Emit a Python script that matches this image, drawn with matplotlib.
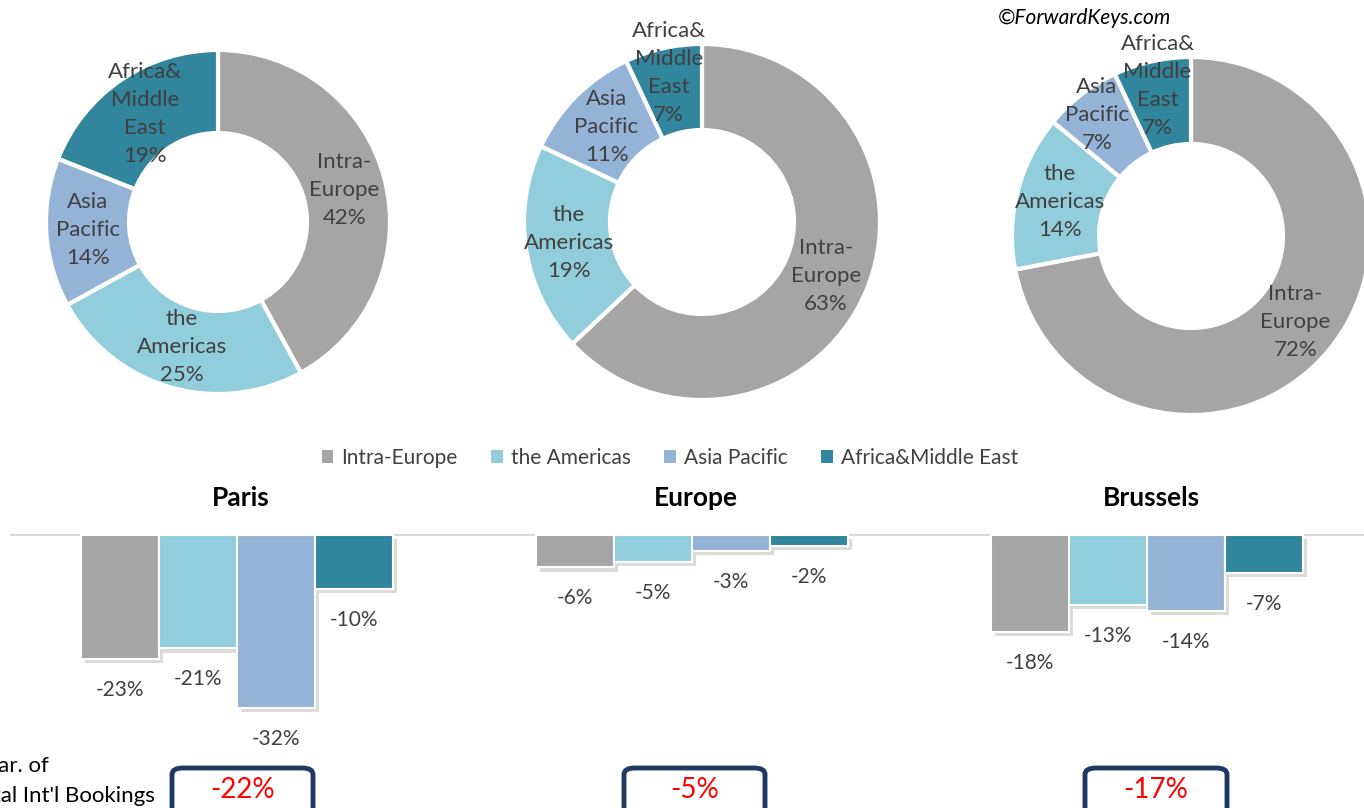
import matplotlib
matplotlib.use("Agg")
import matplotlib.pyplot as plt
import numpy as np
from matplotlib.patches import Patch, FancyBboxPatch
import matplotlib.patheffects as pe

plt.rcParams['font.family'] = ['Lato', 'DejaVu Sans']

# ---------------- data ----------------
regions = ["Intra-Europe", "the Americas", "Asia Pacific", "Africa&Middle East"]
region_labels = ["Intra-\nEurope", "the\nAmericas", "Asia\nPacific", "Africa&\nMiddle\nEast"]
colors = ["#A5A5A5", "#92CDDC", "#95B3D7", "#31859C"]

markets = ["Paris", "Europe", "Brussels"]
share_paris = [42, 25, 14, 19]
share_europe = [63, 19, 11, 7]
share_brussels = [72, 14, 7, 7]
shares = [share_paris, share_europe, share_brussels]

var_paris = [-23, -21, -32, -10]
var_europe = [-6, -5, -3, -2]
var_brussels = [-18, -13, -14, -7]
variations = [var_paris, var_europe, var_brussels]

total_var = ["-22%", "-5%", "-17%"]

# ---------------- figure ----------------
W, H = 1364, 808
fig = plt.figure(figsize=(W / 100, H / 100), dpi=100)
fig.patch.set_facecolor("white")

TXT = "#404040"

def px_axes(x0, y0, w, h):
    return fig.add_axes([x0 / W, 1 - (y0 + h) / H, w / W, h / H])

# donuts: center (px), outer radius, inner radius
donut_geom = [((218, 222), 172, 89), ((702, 222), 178, 92), ((1191, 236), 179, 92)]
for vals, ((cx, cy), R, rin) in zip(shares, donut_geom):
    ax = px_axes(cx - R, cy - R, 2 * R, 2 * R)
    width = 1 - rin / R
    wedges, _ = ax.pie(vals, colors=colors, startangle=90, counterclock=False,
                       radius=1, wedgeprops=dict(width=width, edgecolor="white", linewidth=3))
    ax.set_xlim(-1, 1)
    ax.set_ylim(-1, 1)
    ax.set_aspect("equal")
    ax.axis("off")
    for w in wedges:
        w.set_clip_on(False)
    total = sum(vals)
    cum = 0
    rmid = (1 + rin / R) / 2
    for v, lab in zip(vals, region_labels):
        mid = 90 - (cum + v / 2) / total * 360
        cum += v
        # small slices: Excel pushes the label slightly outward
        r = rmid + (0.1 if v / total < 0.1 else 0.0)
        x = r * np.cos(np.radians(mid))
        y = r * np.sin(np.radians(mid))
        ax.text(x, y, f"{lab}\n{v}%", ha="center", va="center", fontsize=16,
                color=TXT, linespacing=1.5, clip_on=False)

fig.text(1084 / W, 1 - 18 / H, "©ForwardKeys.com", ha="center", va="center",
         fontsize=15, style="italic", color="black")

# legend
handles = [Patch(facecolor=c, edgecolor="none") for c in colors]
fig.legend(handles, regions, loc="center", bbox_to_anchor=(670 / W, 1 - 458 / H),
           ncol=4, frameon=False, fontsize=15, labelcolor=TXT,
           handlelength=0.55, handleheight=0.55, handletextpad=0.4, columnspacing=1.6)

# bars
bx0, bx1 = 10, 1364
group_px = [237, 692, 1148]
gsp = 455.0
ax_b = px_axes(bx0, 480, bx1 - bx0, 280)
x_left = (bx0 - group_px[0]) / gsp
x_right = (bx1 - group_px[0]) / gsp
ax_b.set_xlim(x_left, x_right)
pxpp = 5.4
ax_b.set_ylim(-(760 - 535) / pxpp, (535 - 480) / pxpp)
ax_b.axis("off")
ax_b.axhline(0, color="#D9D9D9", lw=1.5, zorder=1)
bw = 78 / gsp
shadow = [pe.SimplePatchShadow(offset=(3, -3), shadow_rgbFace="#9A9A9A", alpha=0.35), pe.Normal()]
for gi, vals in enumerate(variations):
    for i, v in enumerate(vals):
        xc = gi + (i - 1.5) * bw
        b = ax_b.bar(xc, v, width=bw, color=colors[i], edgecolor="white", linewidth=1.5, zorder=2)
        for p in b:
            p.set_path_effects(shadow)
        ax_b.annotate(f"{v}%", (xc, v), xytext=(0, -31), textcoords="offset pixels",
                      ha="center", va="center", fontsize=15, color=TXT)
    ax_b.text(gi + 4 / gsp, (535 - 498) / pxpp, markets[gi], ha="center", va="center",
              fontsize=19, fontweight="bold", color="black")

# bottom text & boxes
fig.text(-17 / W, 1 - 766 / H, "Var. of", ha="left", va="center", fontsize=16, color="black")
fig.text(-33 / W, 1 - 796 / H, "Total Int'l Bookings", ha="left", va="center", fontsize=16, color="black")
box_px = [(172, 313), (624, 765), (1085, 1227)]
for (x0, x1), t in zip(box_px, total_var):
    bb = FancyBboxPatch((x0 / W, 1 - 830 / H), (x1 - x0) / W, 62 / H,
                        boxstyle="round,pad=0,rounding_size=0.008",
                        transform=fig.transFigure, facecolor="white",
                        edgecolor="#1F3864", linewidth=3.5, clip_on=False)
    fig.patches.append(bb)
    fig.text((x0 + x1) / 2 / W, 1 - 790 / H, t, ha="center", va="center",
             fontsize=20, color="#FF0000")

fig.savefig("out.png", dpi=100, facecolor="white")
